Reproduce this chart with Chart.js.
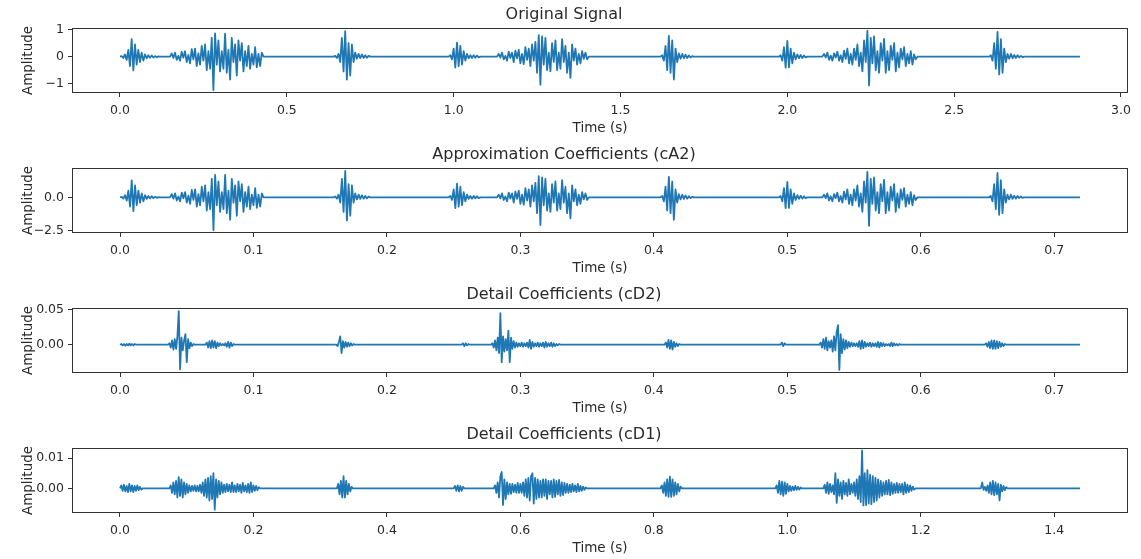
<!DOCTYPE html>
<html><head><meta charset="utf-8">
<script src="https://cdn.jsdelivr.net/npm/chart.js@4/dist/chart.umd.min.js"></script>
<style>
html,body{margin:0;padding:0;background:#fff;width:1141px;height:559px;overflow:hidden}
.p{position:absolute;left:0;width:1141px;height:140px}
</style></head><body>
<div class="p" style="top:0"><canvas id="c0" width="1141" height="140"></canvas></div>
<div class="p" style="top:140px"><canvas id="c1" width="1141" height="140"></canvas></div>
<div class="p" style="top:280px"><canvas id="c2" width="1141" height="140"></canvas></div>
<div class="p" style="top:420px"><canvas id="c3" width="1141" height="140"></canvas></div>
<script>
// ---------- Original signal (time step 0.005 s inside each burst) ----------
const origStep = 0.005;
const origEnd = 2.877;
const origStarts = [0.000, 0.150, 0.640, 0.985, 1.130, 1.620, 1.975, 2.105, 2.605];
const origS1a = [0,.02,-.05,.08,-.12,.25,-.35,.65,-.51,.45,-.3,.25,-.2,.15,-.15,.08,-.06,.05,-.04,.04,-.03,.02,-.02,.01,0];
const origMur1 = [0,.12,-.05,.15,-.12,.03,-.15,.18,-.04,.2,-.2,.06,-.25,.28,-.1,.3,-.35,.12,-.3,.4,-.15,.45,-.5,.2,-.45,.7,-1.24,.86,-.3,.6,-.55,.2,-.45,.85,-.6,.25,-.85,.7,-.2,.45,-.7,.6,-.15,.5,-.55,.2,-.35,.4,-.45,.1,-.3,.35,-.4,.1,-.35,.15,0];
const origS2a = [0,.03,-.05,.1,-.2,.7,-.55,.95,-.85,.5,-.7,.45,-.2,.15,-.08,.1,-.06,.08,-.05,.05,-.04,.03,0];
const origS1b = [0,.05,-.1,.3,-.41,.52,-.35,.4,-.3,.2,-.15,.1,-.06,.05,-.05,.05,-.04,.04,-.03,0];
const origMur2 = [0,.1,-.04,.15,-.1,.03,-.15,.18,-.05,.15,-.2,.22,-.06,.25,-.25,.1,-.28,.35,-.12,.3,-.35,.45,-.15,.55,-.6,.8,-1.04,.75,-.3,.7,-.5,.15,-.55,.5,-.2,.6,-.5,.15,-.45,.65,-.2,.4,-.6,.15,-.79,.45,-.15,.3,-.3,.1,-.25,.2,-.08,.15,-.1,0];
const origS2b = [0,.05,-.15,.4,-.5,.77,-.6,.6,-.85,.3,-.2,.12,-.08,.1,-.06,.07,-.05,.04,-.03,.02,0];
const origS1c = [0,.05,-.15,.35,-.41,.58,-.4,.3,-.25,.15,-.1,.08,-.06,.06,-.05,.04,-.03,0];
const origMur3 = [0,.1,-.03,.15,-.12,.04,-.15,.12,-.03,.18,-.15,.05,-.2,.22,-.08,.3,-.25,.1,-.3,.3,-.12,.45,-.35,.15,-.55,.6,-.2,.96,-1.07,.7,-.25,.75,-.5,.2,-.6,.5,-.15,.66,-.6,.2,-.5,.4,-.12,.5,-.55,.15,-.4,.3,-.1,.35,-.35,.1,-.25,.2,-.3,.08,-.1,0];
const origS2c = [0,.05,-.15,.5,-.45,.92,-.66,.65,-.6,.3,-.2,.1,-.08,.1,-.06,.06,-.05,.05,-.03,.03,-.02,0];

// ---------- Approximation coefficients cA2 (step 0.00125 s) ----------
const cA2Step = 0.00125;
const cA2End = 0.7193;
const cA2Starts = [0, 0.0375, 0.16, 0.24625, 0.2825, 0.405, 0.49375, 0.52625, 0.65125];
const cA2S1a = [0,.04,-.1,.16,-.24,.5,-.7,1.28,-1.05,.9,-.6,.5,-.4,.3,-.3,.16,-.12,.1,-.08,.08,-.06,.04,-.04,.02,0];
const cA2Mur1 = [0,.24,-.1,.3,-.24,.06,-.3,.36,-.08,.4,-.4,.12,-.5,.56,-.2,.6,-.7,.24,-.6,.8,-.3,.9,-1,.4,-.9,1.4,-2.48,1.7,-.6,1.2,-1.1,.4,-.9,1.7,-1.2,.5,-1.7,1.4,-.4,.9,-1.4,1.2,-.3,1,-1.1,.4,-.7,.8,-.9,.2,-.6,.7,-.8,.2,-.7,.3,0];
const cA2S2a = [0,.06,-.1,.2,-.4,1.4,-1.1,2.0,-1.75,1,-1.4,.9,-.4,.3,-.16,.2,-.12,.16,-.1,.1,-.08,.06,0];
const cA2S1b = [0,.1,-.2,.6,-.82,1.04,-.7,.8,-.6,.4,-.3,.2,-.12,.1,-.1,.1,-.08,.08,-.06,0];
const cA2Mur2 = [0,.2,-.08,.3,-.2,.06,-.3,.36,-.1,.3,-.4,.44,-.12,.5,-.5,.2,-.56,.7,-.24,.6,-.7,.9,-.3,1.1,-1.2,1.6,-2.1,1.5,-.6,1.4,-1,.3,-1.1,1,-.4,1.2,-1,.3,-.9,1.3,-.4,.8,-1.2,.3,-1.6,.9,-.3,.6,-.6,.2,-.5,.4,-.16,.3,-.2,0];
const cA2S2b = [0,.1,-.3,.8,-1,1.55,-1.2,1.2,-1.7,.6,-.4,.24,-.16,.2,-.12,.14,-.1,.08,-.06,.04,0];
const cA2S1c = [0,.1,-.3,.7,-.82,1.16,-.8,.6,-.5,.3,-.2,.16,-.12,.12,-.1,.08,-.06,0];
const cA2Mur3 = [0,.2,-.06,.3,-.24,.08,-.3,.24,-.06,.36,-.3,.1,-.4,.44,-.16,.6,-.5,.2,-.6,.6,-.24,.9,-.7,.3,-1.1,1.2,-.4,1.92,-2.15,1.4,-.5,1.5,-1,.4,-1.2,1,-.3,1.32,-1.2,.4,-1,.8,-.24,1,-1.1,.3,-.8,.6,-.2,.7,-.7,.2,-.5,.4,-.6,.16,-.2,0];
const cA2S2c = [0,.1,-.3,1,-.9,1.84,-1.32,1.3,-1.2,.6,-.4,.2,-.16,.2,-.12,.12,-.1,.1,-.06,.06,-.04,0];

// ---------- Detail coefficients cD2 (step 0.001 s) ----------
const cD2Step = 0.001;
const cD2End = 0.7193;
const cD2Starts = [0.000, 0.036, 0.064, 0.162, 0.256, 0.278, 0.408, 0.495, 0.524, 0.648];
const cD2B0 = [0,.001,-.001,.001,-.0015,.001,-.001,.0015,-.001,.001,-.001,.001,0];
const cD2B1 = [0,.002,-.004,.006,-.007,.008,-.006,.012,.048,-.035,.01,-.008,.006,.015,-.025,.008,-.005,.003,-.002,.001,0];
const cD2B2 = [0,.003,-.004,.005,-.005,.006,-.004,.005,-.005,.003,-.002,.002,-.001,.001,-.001,.002,-.003,.004,-.004,.003,-.002,.001,0];
const cD2B3 = [0,-.002,.004,.012,-.012,.005,-.004,.004,-.003,.003,-.002,.002,-.001,.001,0];
const cD2B4 = [0,.002,-.002,.002,-.001,.001,0];
const cD2B5 = [0,.002,-.004,.006,-.008,.01,-.012,.045,-.025,.012,-.01,.008,-.008,.02,-.025,.01,-.006,.005,-.004,.003,-.003,.002,-.002,.003,-.003,.002,-.002,.003,-.004,.007,-.006,.004,-.003,.002,-.002,.003,-.003,.002,-.002,.003,-.004,.004,-.003,.002,-.002,.003,-.003,.002,-.002,.001,-.001,.001,0];
const cD2B6 = [0,.003,-.004,.007,-.006,.006,-.007,.004,-.003,.002,-.002,.001,0];
const cD2B7 = [0,.003,-.002,.002,0];
const cD2B8 = [0,.003,-.004,.008,-.006,.01,-.008,.005,-.004,.006,-.01,.012,-.008,.018,.028,-.036,.015,-.012,.008,-.007,.006,-.005,.004,-.003,.003,-.002,.002,-.002,.002,-.003,.005,-.006,.006,-.005,.004,-.003,.002,-.002,.003,-.003,.002,-.002,.002,-.003,.004,-.004,.003,-.002,.002,-.002,.001,-.001,.001,-.002,.003,-.002,.002,-.001,.001,-.001,.001,0];
const cD2B9 = [0,.002,-.003,.004,-.005,.006,-.006,.006,-.006,.005,-.005,.004,-.003,.002,-.002,.001,0];

// ---------- Detail coefficients cD1 (step 0.002 s) ----------
const cD1Step = 0.002;
const cD1End = 1.4386;
const cD1Starts = [0.000, 0.074, 0.325, 0.500, 0.560, 0.810, 0.982, 1.054, 1.290];
const cD1B1 = [0,.001,-.0008,.0012,-.001,.0008,-.0012,.0015,-.001,.001,-.0012,.0008,-.0008,.001,-.0006,.0005,-.0004,0];
const cD1B2 = [0,.001,-.0015,.002,-.002,.0025,-.003,.0037,-.0025,.003,-.003,.002,-.002,.0015,-.0015,.001,-.001,.0008,-.0008,.001,-.001,.0008,-.001,.0012,-.0015,.002,-.0025,.003,-.003,.0035,-.004,.004,-.0035,.005,-.007,.003,-.003,.0025,-.002,.002,-.0015,.0012,-.0012,.0015,-.001,.0012,-.0012,.002,-.0012,.001,-.0012,.0015,-.001,.0012,-.0015,.0018,-.001,.001,-.0012,.0015,-.0015,.002,-.0012,.001,-.0008,.0008,-.0006,.0004,0];
const cD1B3 = [0,.0015,-.002,.0025,-.003,.004,-.003,.0025,-.002,.0015,-.001,.0005,0];
const cD1B4 = [0,.0008,-.0008,.001,-.001,.0008,-.0008,.0005,0];
const cD1B5 = [0,.001,-.0015,.002,-.003,.004,.0054,-.0055,.003,-.0035,.002,-.002,.0015,-.0018,.0015,-.0012,.0012,-.0015,.0018,-.0015,.0015,-.0015,.002,-.0025,.003,-.003,.0035,-.004,.004,.005,-.005,.0035,-.0035,.003,-.003,.0025,-.003,.003,-.0025,.003,-.0035,.0025,-.002,.0025,-.003,.003,-.0028,.0025,-.002,.0028,-.0025,.002,-.0022,.0018,-.0015,.0015,-.0015,.0012,-.0012,.0015,-.001,.001,-.0012,.0015,-.001,.0008,-.0008,.0006,-.0005,.0003,0];
const cD1B6 = [0,.001,-.0015,.002,-.0025,.003,-.0028,.0039,-.0028,.003,-.0025,.002,-.002,.0015,-.001,.0006,0];
const cD1B7 = [0,.001,-.0015,.0025,-.002,.0022,-.0025,.002,-.0018,.0015,-.001,.0008,-.0008,.0006,-.0006,.0008,-.0005,.0005,-.0004,.0003,0];
const cD1B8 = [0,.0012,-.0015,.002,-.0018,.0015,-.0012,.001,-.002,.005,-.0048,.003,-.0025,.002,-.0035,.0025,-.002,.0018,-.0025,.003,-.002,.0015,-.0015,.002,-.0025,.003,-.0035,.004,-.0045,.0125,-.0056,.005,-.0055,.006,-.005,.0045,-.0052,.004,-.0045,.0035,-.004,.003,-.003,.0025,-.0025,.002,-.002,.0025,-.002,.0028,-.0022,.002,-.0018,.0015,-.0015,.0018,-.0015,.0015,-.0012,.0015,-.002,.002,-.0015,.0012,-.0012,.001,-.0008,.0006,-.0004,0];
const cD1B9 = [0,.002,-.0005,.0005,-.0008,.001,-.0015,.002,-.002,.0025,-.0022,.002,-.002,.0015,-.004,.0012,-.001,.0008,-.0006,.0004,0];

// ---------- Titles / labels ----------
const panelTitles = ['Original Signal', 'Approximation Coefficients (cA2)', 'Detail Coefficients (cD2)', 'Detail Coefficients (cD1)'];
const xLabel = 'Time (s)';
const yLabel = 'Amplitude';

function buildPoints(starts, bursts, step, end) {
  const pts = [];
  bursts.forEach((b, i) => b.forEach((v, k) => pts.push({x: starts[i] + k * step, y: v})));
  pts.push({x: end, y: 0});
  return pts;
}

const FONT = 'DejaVu Sans';
const TXT = '#2a2a2a';
const AX = '#333';
Chart.defaults.font.family = FONT;

const frame = {
  id: 'frame',
  afterDatasetsDraw(c) {
    const a = c.chartArea, ctx = c.ctx;
    ctx.save();
    ctx.strokeStyle = AX; ctx.lineWidth = 1;
    ctx.strokeRect(Math.round(a.left) + 0.5, Math.round(a.top) + 0.5, Math.round(a.right - a.left) - 1, Math.round(a.bottom - a.top) - 1);
    ctx.restore();
  }
};
const minus = s => s.replace('-', '\u2212');

function makeChart(id, title, pts, xr, xstep, xfmt, yr, ystep, yfmt) {
  return new Chart(document.getElementById(id), {
    type: 'line',
    data: { datasets: [{ data: pts, borderColor: '#1f77b4', borderWidth: 1.8, pointRadius: 0, tension: 0, fill: false, borderJoinStyle: 'round' }] },
    options: {
      responsive: false, animation: false, parsing: false, normalized: true,
      events: [],
      layout: { padding: { left: 0, right: 13, top: 0, bottom: 0 } },
      plugins: {
        legend: { display: false }, tooltip: { enabled: false },
        title: { display: true, text: title, color: TXT, font: { family: FONT, size: 16, weight: 'normal', lineHeight: 1.125 }, padding: { top: 6, bottom: 4 } }
      },
      scales: {
        x: {
          type: 'linear', min: xr[0], max: xr[1],
          afterFit: s => { s.height = 47; },
          grid: { display: true, drawOnChartArea: false, drawTicks: true, tickLength: 4, color: AX },
          border: { display: false },
          ticks: { stepSize: xstep, includeBounds: false, autoSkip: false, maxRotation: 0, padding: 6, color: TXT, font: { family: FONT, size: 12.5 }, callback: v => xfmt(v) },
          title: { display: true, text: xLabel, color: TXT, font: { family: FONT, size: 13.5 }, padding: { top: 0, bottom: 3 } }
        },
        y: {
          type: 'linear', min: yr[0], max: yr[1],
          afterFit: s => { s.width = 72; },
          grid: { display: true, drawOnChartArea: false, drawTicks: true, tickLength: 4, color: AX },
          border: { display: false },
          ticks: { stepSize: ystep, includeBounds: false, autoSkip: false, padding: 4, color: TXT, font: { family: FONT, size: 12.5 }, callback: v => yfmt(v) },
          title: { display: true, text: yLabel, color: TXT, font: { family: FONT, size: 13.5 }, padding: { top: 20, bottom: 0 } }
        }
      }
    },
    plugins: [frame]
  });
}

const f1 = v => minus(v.toFixed(1));
const f2 = v => minus(v.toFixed(2));
const f0 = v => minus(String(Math.round(v)));

makeChart('c0', panelTitles[0],
  buildPoints(origStarts, [origS1a, origMur1, origS2a, origS1b, origMur2, origS2b, origS1c, origMur3, origS2c], origStep, origEnd),
  [-0.1438, 3.021], 0.5, f1, [-1.35, 1.063], 1, f0);
makeChart('c1', panelTitles[1],
  buildPoints(cA2Starts, [cA2S1a, cA2Mur1, cA2S2a, cA2S1b, cA2Mur2, cA2S2b, cA2S1c, cA2Mur3, cA2S2c], cA2Step, cA2End),
  [-0.036, 0.7553], 0.1, f1, [-2.70, 2.22], 2.5, f1);
makeChart('c2', panelTitles[2],
  buildPoints(cD2Starts, [cD2B0, cD2B1, cD2B2, cD2B3, cD2B4, cD2B5, cD2B6, cD2B7, cD2B8, cD2B9], cD2Step, cD2End),
  [-0.036, 0.7553], 0.1, f1, [-0.0404, 0.0524], 0.05, f2);
makeChart('c3', panelTitles[3],
  buildPoints(cD1Starts, [cD1B1, cD1B2, cD1B3, cD1B4, cD1B5, cD1B6, cD1B7, cD1B8, cD1B9], cD1Step, cD1End),
  [-0.0719, 1.5105], 0.2, f1, [-0.00812, 0.01333], 0.01, f2);
</script>
</body></html>
